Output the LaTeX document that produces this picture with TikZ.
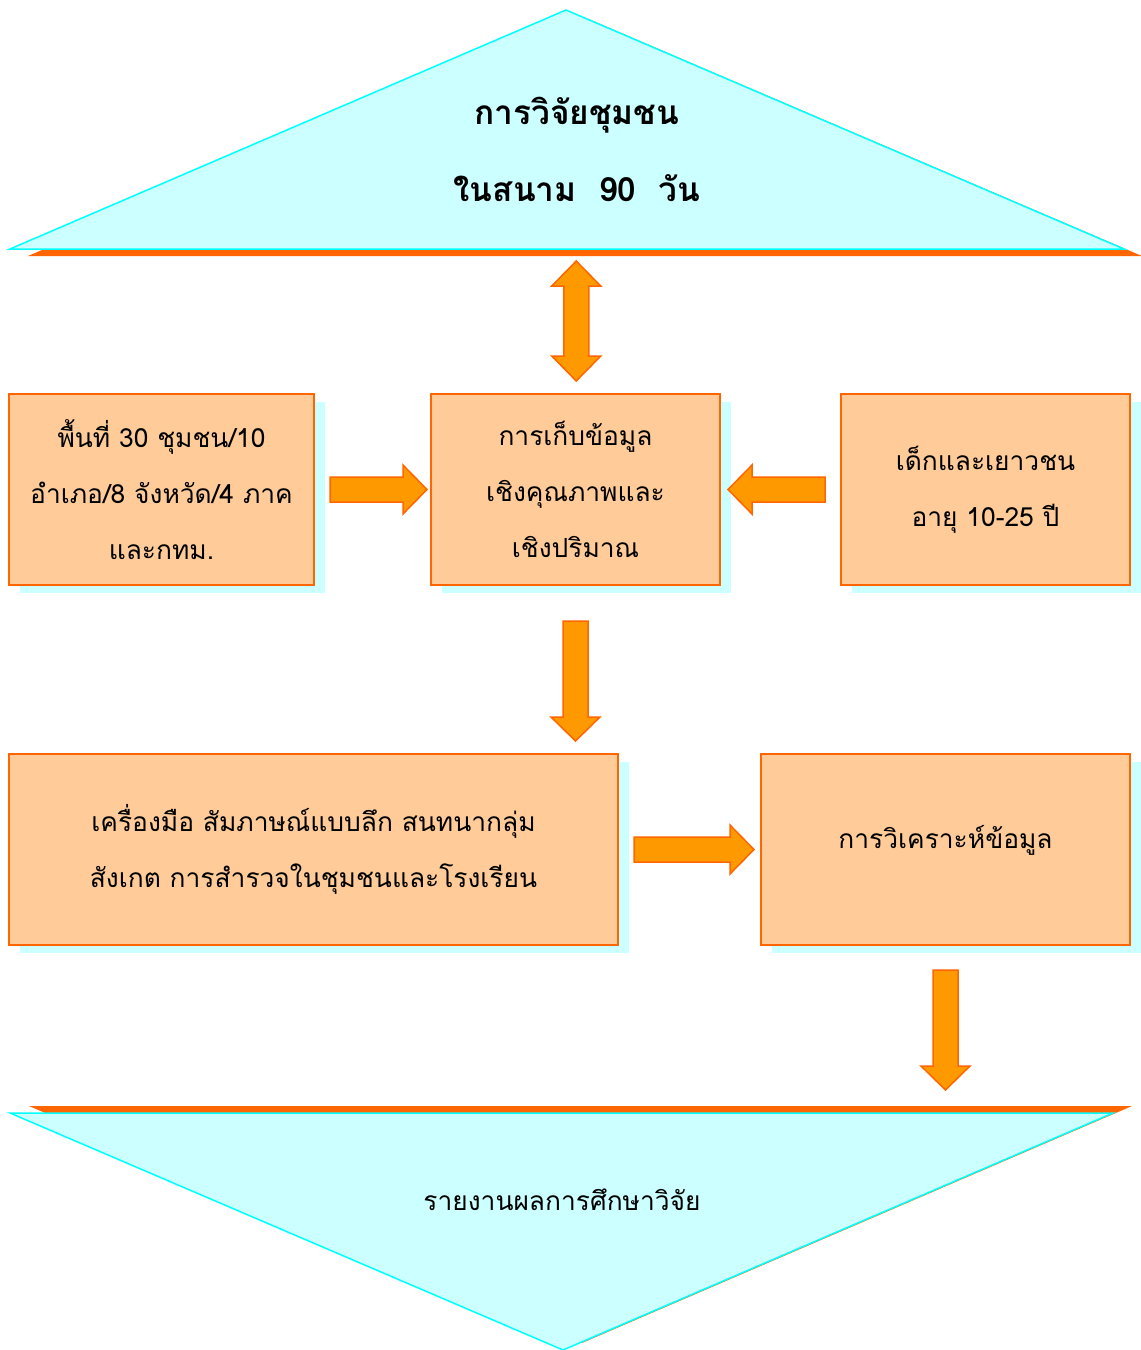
\documentclass[tikz,border=0pt]{standalone}
\usepackage{fontspec}
\setmainfont[Script=Thai]{Loma}
\usetikzlibrary{calc,shadows}

\definecolor{skyfill}{HTML}{CCFFFF}
\definecolor{skyline}{HTML}{00FFFF}
\definecolor{rustline}{HTML}{FF6600}
\definecolor{peachfill}{HTML}{FFCC99}
\definecolor{amberfill}{HTML}{FF9900}

\def\px{0.02cm} % one pixel of the reference

\tikzset{
  stagebox/.style={draw=rustline, line width=2*\px, fill=peachfill, align=center, inner sep=0pt,
    drop shadow={fill=skyfill, opacity=1, shadow xshift=11*\px, shadow yshift=-8*\px},
    font=\fontsize{15}{32}\selectfont},
  tri/.style={draw=skyline, line width=1.5*\px, fill=skyfill, line join=miter},
  trishade/.style={fill=rustline},
  arrowbody/.style={draw=rustline, line width=1.5*\px, fill=amberfill, line join=miter},
  % block arrow pointing along +x, length #1
  blockarrow/.pic={
    \draw[arrowbody] (0,-12.5) -- ({#1-24},-12.5) -- ({#1-24},-24.5) -- (#1,0)
      -- ({#1-24},24.5) -- ({#1-24},12.5) -- (0,12.5) -- cycle;
  },
  % block arrow with two heads, centred, length #1
  dblarrow/.pic={
    \draw[arrowbody] ({-#1/2},0) -- ({-#1/2+25},-24.5) -- ({-#1/2+25},-12.5)
      -- ({#1/2-25},-12.5) -- ({#1/2-25},-24.5) -- ({#1/2},0) -- ({#1/2-25},24.5)
      -- ({#1/2-25},12.5) -- ({-#1/2+25},12.5) -- ({-#1/2+25},24.5) -- cycle;
  }
}

\begin{document}
\begin{tikzpicture}[x=0.02cm, y=-0.02cm]

    \useasboundingbox (0,0) rectangle (1141,1350);

    % --- Top triangle ---
    \fill[trishade] (584,17) -- (28,256) -- (1142,256) -- cycle; % orange shade
    \draw[tri] (566,10) -- (10,249) -- (1124,249) -- cycle;
    \coordinate (topbase) at (577,249);
    \node[font=\bfseries\fontsize{19}{26}\selectfont] (title) at (577,115) {การวิจัยชุมชน};
    \node[font=\bfseries\fontsize{19}{26}\selectfont] (subtitle) at (577,188) {ในสนาม~~90~~วัน};

    % --- Middle row ---
    \node[stagebox, minimum width=305*\px, minimum height=191*\px] (area) at (161.5,489.5)
        {พื้นที่ 30 ชุมชน/10\\อำเภอ/8 จังหวัด/4 ภาค\\และกทม.};
    \node[stagebox, minimum width=289*\px, minimum height=191*\px] (collect) at (575.5,489.5)
        {การเก็บข้อมูล\\เชิงคุณภาพและ\\เชิงปริมาณ};
    \node[stagebox, minimum width=289*\px, minimum height=191*\px] (youth) at (985.5,489.5)
        {เด็กและเยาวชน\\อายุ 10-25 ปี};

    % --- Lower row ---
    \node[stagebox, minimum width=609*\px, minimum height=191*\px] (tools) at (313.5,849.5)
        {เครื่องมือ สัมภาษณ์แบบลึก สนทนากลุ่ม\\สังเกต การสำรวจในชุมชนและโรงเรียน};
    \node[stagebox, minimum width=369*\px, minimum height=191*\px] (analysis) at (945.5,849.5)
        {\raisebox{0pt}[\height][0.5cm]{การวิเคราะห์ข้อมูล}};

    % --- Bottom triangle ---
    \fill[trishade] (29,1106) -- (1132,1106) -- (582,1343) -- cycle; % orange shade
    \draw[tri] (10,1113) -- (1113,1113) -- (563,1350) -- cycle;
    \node[font=\fontsize{15}{26}\selectfont] (report) at (562,1200) {รายงานผลการศึกษาวิจัย};

    % --- Block arrows ---
    \pic[rotate=90] at ($(topbase)!0.5!(collect.north)$) {dblarrow=120};
    \pic at ($(area.east)+(15,0)$) {blockarrow=97};
    \pic[rotate=180] at ($(youth.west)+(-15,0)$) {blockarrow=97};
    \pic[rotate=-90] at ($(collect.south)+(0,35)$) {blockarrow=120};
    \pic at ($(tools.east)+(15,0)$) {blockarrow=120};
    \pic[rotate=-90] at ($(analysis.south)+(0,24)$) {blockarrow=120};

\end{tikzpicture}
\end{document}
